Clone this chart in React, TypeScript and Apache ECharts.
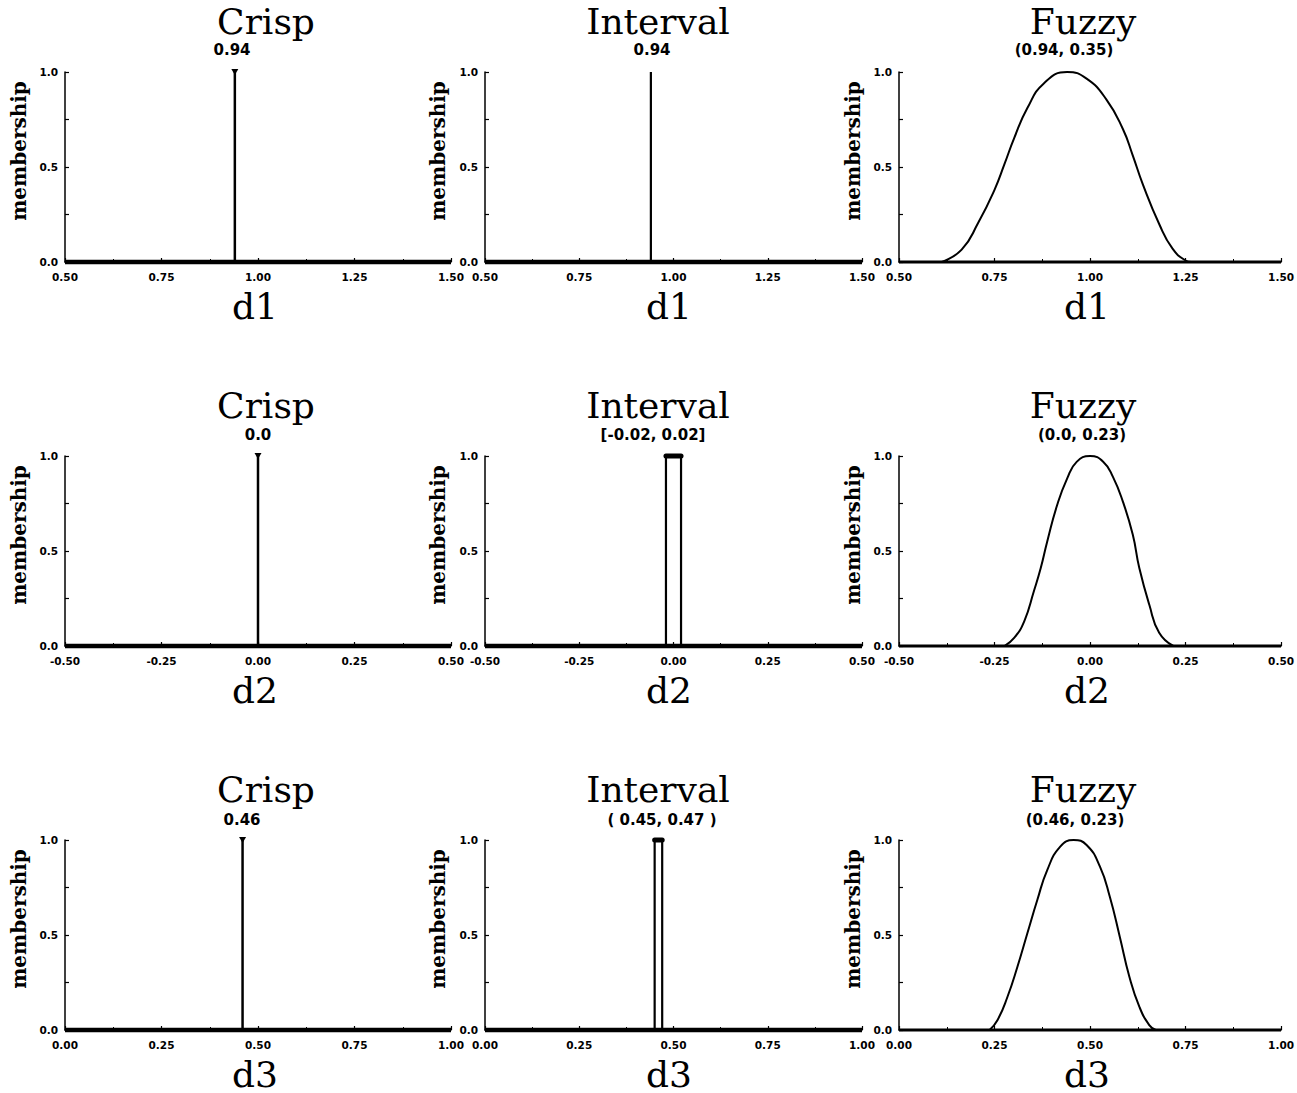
import React, { useEffect, useRef } from 'react';
import * as echarts from 'echarts';

// ---------------- data ----------------
const rowNames = ['d1', 'd2', 'd3'];
const columnTitles = ['Crisp', 'Interval', 'Fuzzy'];
const xMin = [0.5, -0.5, 0.0];
const xMax = [1.5, 0.5, 1.0];
const xTickStep = 0.25;
const yTickStep = 0.25;

const crispValues = [0.94, 0.0, 0.46];
const crispLabels = ['0.94', '0.0', '0.46'];

const intervalLow = [0.94, -0.02, 0.45];
const intervalHigh = [0.94, 0.02, 0.47];
const intervalLabels = ['0.94', '[-0.02, 0.02]', '( 0.45, 0.47 )'];

const fuzzyLabels = ['(0.94, 0.35)', '(0.0, 0.23)', '(0.46, 0.23)'];

// fuzzy membership curves
const fuzzyD1X = [0.612, 0.664, 0.707, 0.750, 0.776, 0.802, 0.836, 0.879, 0.940, 0.991, 1.043, 1.086, 1.112, 1.138, 1.181, 1.216, 1.250, 1.265];
const fuzzyD1Y = [0, 0.065, 0.205, 0.38, 0.515, 0.655, 0.81, 0.94, 1.0, 0.965, 0.855, 0.70, 0.56, 0.41, 0.20, 0.07, 0.008, 0];
const fuzzyD2X = [-0.224, -0.198, -0.172, -0.147, -0.129, -0.112, -0.086, -0.060, -0.035, 0.0, 0.035, 0.060, 0.086, 0.112, 0.129, 0.155, 0.181, 0.218];
const fuzzyD2Y = [0, 0.044, 0.131, 0.288, 0.41, 0.55, 0.742, 0.881, 0.969, 1.0, 0.969, 0.89, 0.76, 0.585, 0.41, 0.218, 0.07, 0];
const fuzzyD3X = [0.237, 0.258, 0.284, 0.310, 0.336, 0.362, 0.388, 0.422, 0.457, 0.491, 0.526, 0.552, 0.578, 0.603, 0.629, 0.655, 0.672];
const fuzzyD3Y = [0, 0.053, 0.175, 0.333, 0.509, 0.684, 0.842, 0.965, 1.0, 0.974, 0.86, 0.70, 0.49, 0.28, 0.123, 0.026, 0];
const fuzzyX = [fuzzyD1X, fuzzyD2X, fuzzyD3X];
const fuzzyY = [fuzzyD1Y, fuzzyD2Y, fuzzyD3Y];

// ---------------- layout ----------------
const colLeft = [65, 485, 899];
const colWidth = [386, 377, 386];
const rowTop = [72, 456, 840];
const rowStep = 384;
const gridHeight = 190;
const titleX = [266, 658, 1083];
const titleY = 21;
const nameX = [255, 669, 1087];
const nameY = 306;
const memberX = [19, 438, 853];
const memberY = 151;
const subX = [
  [232, 652, 1064],
  [258, 653, 1082],
  [242, 662, 1075],
];
const subY = [50, 435, 820];

const SERIF = '"DejaVu Serif", serif';
const SANS = '"DejaVu Sans", sans-serif';

function buildOption() {
  const grid: any[] = [];
  const xAxis: any[] = [];
  const yAxis: any[] = [];
  const series: any[] = [];
  const graphic: any[] = [];

  const txt = (x: number, y: number, text: string, family: string, size: number, weight: string, rotation = 0) => ({
    type: 'text',
    x,
    y,
    rotation,
    silent: true,
    style: {
      text,
      fontFamily: family,
      fontSize: size,
      fontWeight: weight,
      fill: '#000',
      align: 'center',
      verticalAlign: 'middle',
      textAlign: 'center',
      textVerticalAlign: 'middle',
    },
  });

  for (let r = 0; r < 3; r++) {
    for (let c = 0; c < 3; c++) {
      const k = r * 3 + c;
      grid.push({ left: colLeft[c], top: rowTop[r], width: colWidth[c], height: gridHeight, containLabel: false });
      xAxis.push({
        type: 'value',
        gridIndex: k,
        min: xMin[r],
        max: xMax[r],
        interval: xTickStep,
        axisLine: { show: true, onZero: false, lineStyle: { color: '#000', width: 1.5 } },
        axisTick: { show: true, inside: true, length: 4, lineStyle: { color: '#000', width: 1.2 } },
        minorTick: { show: true, splitNumber: 2, length: 3, lineStyle: { color: '#000', width: 1 } },
        splitLine: { show: false },
        axisLabel: {
          show: true,
          margin: 9,
          color: '#000',
          fontFamily: SANS,
          fontWeight: 'bold',
          fontSize: 10.5,
          showMinLabel: true,
          showMaxLabel: true,
          formatter: (v: number) => v.toFixed(2),
        },
      });
      yAxis.push({
        type: 'value',
        gridIndex: k,
        min: 0,
        max: 1,
        interval: yTickStep,
        axisLine: { show: true, onZero: false, lineStyle: { color: '#000', width: 1.5 } },
        axisTick: { show: true, inside: true, length: 4, lineStyle: { color: '#000', width: 1.2 } },
        splitLine: { show: false },
        axisLabel: {
          show: true,
          margin: 7,
          color: '#000',
          fontFamily: SANS,
          fontWeight: 'bold',
          fontSize: 10.5,
          formatter: (v: number) => (Math.abs(v * 2 - Math.round(v * 2)) < 1e-6 ? v.toFixed(1) : ''),
        },
      });

      const base = {
        type: 'line',
        xAxisIndex: k,
        yAxisIndex: k,
        symbol: 'none',
        clip: false,
        silent: true,
        animation: false,
      };

      // baseline (membership 0 across the domain)
      series.push({
        ...base,
        data: [[xMin[r], 0], [xMax[r], 0]],
        lineStyle: { color: '#000', width: c === 2 ? 3 : 4.5 },
      });

      if (c === 0) {
        const v = crispValues[r];
        series.push({
          ...base,
          symbol: 'triangle',
          symbolRotate: 180,
          symbolSize: [7, 6],
          showSymbol: true,
          itemStyle: { color: '#000' },
          data: [{ value: [v, 0], symbol: 'none' }, { value: [v, 1] }],
          lineStyle: { color: '#000', width: 2.5 },
        });
        graphic.push(txt(subX[r][c], subY[r], crispLabels[r], SANS, 15, 'bold'));
      } else if (c === 1) {
        const lo = intervalLow[r];
        const hi = intervalHigh[r];
        series.push({
          ...base,
          data: [[lo, 0], [lo, 1], [hi, 1], [hi, 0]],
          lineStyle: { color: '#000', width: 2.2 },
        });
        series.push({
          ...base,
          data: [[lo, 1], [hi, 1]],
          lineStyle: { color: '#000', width: 5, cap: 'round' },
        });
        graphic.push(txt(subX[r][c], subY[r], intervalLabels[r], SANS, 15, 'bold'));
      } else {
        const pts: number[][] = fuzzyX[r].map((x, i) => [x, fuzzyY[r][i]]);
        series.push({
          ...base,
          smooth: 0.5,
          data: pts,
          lineStyle: { color: '#000', width: 2 },
        });
        graphic.push(txt(subX[r][c], subY[r], fuzzyLabels[r], SANS, 15, 'bold'));
      }

      graphic.push(txt(titleX[c], titleY + rowStep * r, columnTitles[c], SERIF, 36, 'normal'));
      graphic.push(txt(nameX[c], nameY + rowStep * r, rowNames[r], SERIF, 36, 'normal'));
      graphic.push(txt(memberX[c], memberY + rowStep * r, 'membership', SERIF, 20, 'bold', Math.PI / 2));
    }
  }

  return {
    animation: false,
    backgroundColor: '#fff',
    grid,
    xAxis,
    yAxis,
    series,
    graphic,
  };
}

export default function App() {
  const ref = useRef<HTMLDivElement>(null);
  useEffect(() => {
    if (!ref.current) return;
    const chart = echarts.init(ref.current, null, { renderer: 'svg' });
    chart.setOption(buildOption() as any);
    return () => chart.dispose();
  }, []);
  return (
    <div
      ref={ref}
      style={{ position: 'absolute', left: 0, top: 0, width: 1297, height: 1093, background: '#fff' }}
    />
  );
}
